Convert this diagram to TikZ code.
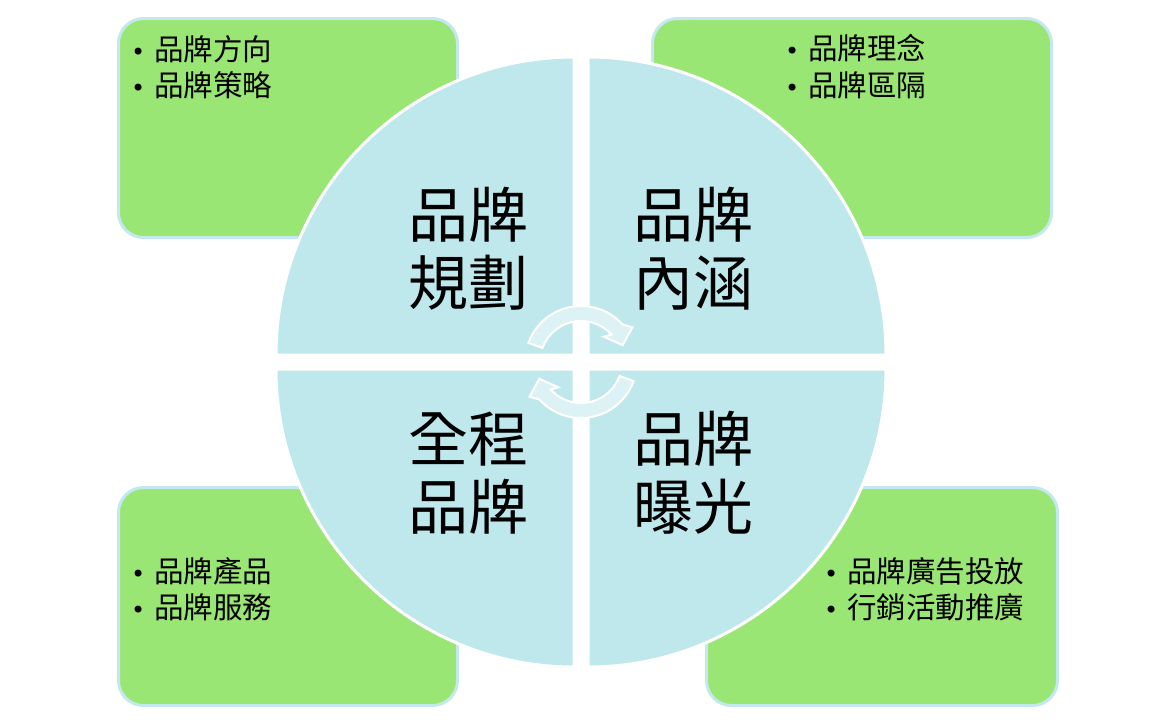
\documentclass[tikz,border=0pt]{standalone}
\usepackage{fontspec}
\setmainfont{Noto Sans CJK TC}
\newfontfamily\bulletfont{DejaVu Sans}
\definecolor{quadfill}{HTML}{BFE8EC}
\definecolor{boxfill}{HTML}{9AE674}
\definecolor{boxline}{HTML}{C3E8EE}
\definecolor{arrowfill}{HTML}{DDF2F5}
\tikzset{
  infobox/.style={fill=boxfill, draw=boxline, line width=3pt, rounded corners=25pt},
  quad/.style={fill=quadfill, draw=white, line width=3pt},
  cyclearrow/.style={fill=arrowfill, draw=white, line width=2pt, line join=miter},
  itemtext/.style={anchor=west, inner sep=0pt, font=\fontsize{29.5}{34}\selectfont},
  bigtext/.style={anchor=center, inner sep=0pt, font=\fontsize{60}{68}\selectfont},
}
\newcommand{\blt}{\makebox[32pt]{\bulletfont\fontsize{24}{28}\selectfont •}}
\begin{document}
\begin{tikzpicture}[x=1pt,y=-1pt]
\useasboundingbox (0,0) rectangle (1171,726);
% boxes
\path[infobox] (118.5,18.5) rectangle (457.5,237.5);
\path[infobox] (652.5,18.5) rectangle (1051.5,237.5);
\path[infobox] (118.5,487.5) rectangle (457.5,705.5);
\path[infobox] (706.5,487.5) rectangle (1057.5,705.5);
% quadrants
\path[quad] (574,355) -- (276,355) arc[start angle=180,end angle=270,radius=298] -- cycle;
\path[quad] (588,355) -- (588,57) arc[start angle=270,end angle=360,radius=298] -- cycle;
\path[quad] (588,369) -- (886,369) arc[start angle=0,end angle=90,radius=298] -- cycle;
\path[quad] (574,369) -- (574,667) arc[start angle=90,end angle=180,radius=298] -- cycle;
% cycle arrows
\begin{scope}[shift={(581,362)}]
\path[cyclearrow] (200:56) arc[start angle=200,end angle=318,radius=56]
  -- (326:62) -- (338:45) -- (312:34) -- (318:41)
  arc[start angle=318,end angle=200,radius=41] -- cycle;
\path[cyclearrow] (20:56) arc[start angle=20,end angle=138,radius=56]
  -- (146:62) -- (158:45) -- (132:34) -- (138:41)
  arc[start angle=138,end angle=20,radius=41] -- cycle;
\end{scope}
% big labels
\node[bigtext] (tl1) at (468,215) {品牌};
\node[bigtext] (tl2) at (468,283) {規劃};
\node[bigtext] (tr1) at (693,215) {品牌};
\node[bigtext] (tr2) at (693,283) {內涵};
\node[bigtext] (bl1) at (468,439) {全程};
\node[bigtext] (bl2) at (468,507) {品牌};
\node[bigtext] (br1) at (693,439) {品牌};
\node[bigtext] (br2) at (693,507) {曝光};
% item texts
\node[itemtext] (a1) at (122,49) {\blt 品牌方向};
\node[itemtext] (a2) at (122,85) {\blt 品牌策略};
\node[itemtext] (b1) at (776,48.5) {\blt 品牌理念};
\node[itemtext] (b2) at (776,85.5) {\blt 品牌區隔};
\node[itemtext] (c1) at (122,571) {\blt 品牌產品};
\node[itemtext] (c2) at (122,607) {\blt 品牌服務};
\node[itemtext] (d1) at (815,571) {\blt 品牌廣告投放};
\node[itemtext] (d2) at (815,607) {\blt 行銷活動推廣};
\end{tikzpicture}
\end{document}
